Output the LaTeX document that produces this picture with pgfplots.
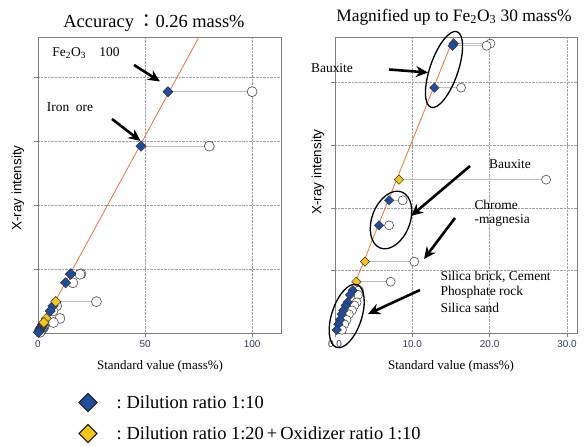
\documentclass[border=0pt]{standalone}
\usepackage{fontspec}
\setmainfont{Liberation Serif}
\newfontfamily\arialf{Liberation Sans}
\newfontfamily\cjk{Noto Sans CJK JP}
\usepackage{pgfplots}
\pgfplotsset{compat=1.18}
\usepackage{pgfplotstable}
\usetikzlibrary{arrows.meta}

\definecolor{dblue}{HTML}{1F4E9E}
\definecolor{dyellow}{HTML}{F5C518}
\definecolor{fitline}{HTML}{F0703C}
\definecolor{ticktext}{HTML}{2E3A55}
\definecolor{framegray}{HTML}{7F7F7F}

% x_d: diamond (standard value), y: intensity, x_c: circle
\pgfplotstableread{
xd y xc
60.7 3.77 100
48.1 2.92 80
}\bigblue
\pgfplotstableread{
xd y xc
15.35 0.925 20.1
15.2 0.918 19.6
12.85 0.784 16.3
7.0 0.424 8.75
5.7 0.344 7.0
2.29 0.136 3.1
1.94 0.122 3.0
1.64 0.098 2.8
1.38 0.088 2.5
1.07 0.072 2.2
0.87 0.060 1.8
0.65 0.042 1.5
0.43 0.028 1.2
0.22 0.010 0.9
}\smallblue
\pgfplotstableread{
xd y xc
8.28 0.490 27.3
3.88 0.228 10.26
2.76 0.164 7.2
}\yellowtab

\pgfplotsset{
 panel/.style={
  scale only axis, anchor=south west, height=296bp,
  xmin=0, ymin=0, clip=false,
  axis line style={framegray, line width=0.7bp},
  grid=major, grid style={densely dotted, gray!75, line width=0.5bp},
  tick align=outside, major tick length=4bp,
  tick style={framegray, line width=0.6bp},
  tick pos=left,
  yticklabel=\empty,
  /pgf/number format/assume math mode=true,
  xticklabel style={font=\arialf\fontsize{10}{11}\selectfont, text=ticktext},
 },
 conn/.style={draw=none, forget plot,
   error bars/.cd, x dir=plus, x explicit, error mark=none,
   error bar style={draw=gray!50, solid, line width=0.9bp}},
 circ/.style={only marks, mark=*, mark size=#1,
   mark options={fill=white, draw=gray!60!black, line width=0.6bp}},
 bmark/.style={only marks, mark=square*, mark size=#1,
   mark options={rotate=45, fill=dblue, draw=black!80, line width=0.5bp}},
 ymark/.style={only marks, mark=square*, mark size=#1,
   mark options={rotate=45, fill=dyellow, draw=black!80, line width=0.5bp}},
}

\begin{document}
\begin{tikzpicture}[x=1bp,y=1bp]
\useasboundingbox (0,0) rectangle (585,446);

% ---------- left panel ----------
\begin{axis}[panel, at={(38bp,113bp)}, width=243bp,
  xmax=113.5, ymax=4.625, xtick={0,50,100}, ytick={1,2,3,4}]
\addplot[conn] table[x=xd, y=y, x error expr=\thisrow{xc}-\thisrow{xd}] {\bigblue};
\addplot[conn] table[x=xd, y=y, x error expr=\thisrow{xc}-\thisrow{xd}] {\smallblue};
\addplot[conn] table[x=xd, y=y, x error expr=\thisrow{xc}-\thisrow{xd}] {\yellowtab};
\addplot[circ=5bp] table[x=xc, y=y] {\bigblue};
\addplot[circ=5bp] table[x=xc, y=y] {\smallblue};
\addplot[circ=5bp] table[x=xc, y=y] {\yellowtab};
\addplot[fitline, line width=0.8bp] coordinates {(0,0) (75.2,4.625)};
\addplot[bmark=3.6bp] table[x=xd, y=y] {\bigblue};
\addplot[bmark=3.6bp] table[x=xd, y=y] {\smallblue};
\addplot[ymark=3.6bp] table[x=xd, y=y] {\yellowtab};
\end{axis}

% ---------- right panel ----------
\begin{axis}[panel, at={(335bp,113bp)}, width=242bp,
  xmax=31.3, ymax=0.946, xtick={0,10,20,30}, ytick={0.2,0.4,0.6,0.8},
  xticklabel style={/pgf/number format/.cd, fixed, fixed zerofill, precision=1}]
\addplot[conn] table[x=xd, y=y, x error expr=\thisrow{xc}-\thisrow{xd}] {\smallblue};
\addplot[conn] table[x=xd, y=y, x error expr=\thisrow{xc}-\thisrow{xd}] {\yellowtab};
\addplot[circ=4.5bp] table[x=xc, y=y] {\smallblue};
\addplot[circ=4.5bp] table[x=xc, y=y] {\yellowtab};
\addplot[fitline, line width=0.8bp] coordinates {(0,0) (15.38,0.946)};
\addplot[bmark=3.3bp] table[x=xd, y=y] {\smallblue};
\addplot[ymark=3.3bp] table[x=xd, y=y] {\yellowtab};
\end{axis}

% ---------- titles and labels ----------
\node[font=\fontsize{18.5}{20}\selectfont] at (154,423) {Accuracy\,{\cjk ：}0.26 mass\%};
\node[font=\fontsize{17.5}{20}\selectfont] at (454,429) {Magnified up to Fe\textsubscript{2}O\textsubscript{3} 30 mass\%};
\node[font=\fontsize{13}{15}\selectfont] at (160,80) {Standard value (mass\%)};
\node[font=\fontsize{13}{15}\selectfont] at (451,80) {Standard value (mass\%)};
\node[font=\arialf\fontsize{13.5}{15}\selectfont, rotate=90] at (18,258) {X-ray intensity};
\node[font=\arialf\fontsize{13.5}{15}\selectfont, rotate=90] at (318,274) {X-ray intensity};

% ---------- annotations ----------
\begin{scope}[font=\fontsize{13.5}{15}\selectfont]
\node at (86,393) {Fe\textsubscript{2}O\textsubscript{3}\quad 100};
\node at (70,339) {Iron\ \ ore};
\node at (332,378) {Bauxite};
\node at (510,282) {Bauxite};
\node[anchor=west] at (471,241) {Chrome};
\node[anchor=west] at (471,225) {-magnesia};
\node[anchor=west] at (437,169) {Silica brick, Cement};
\node[anchor=west] at (437,153.5) {Phosphate rock};
\node[anchor=west] at (437,138) {Silica sand};
\end{scope}

\begin{scope}[line width=2.6bp, -{Stealth[length=12bp, width=11bp]}]
\draw (134,381) -- (160,364.5);
\draw (112,327) -- (140.5,305);
\draw (389,376.5) -- (428,373.5);
\draw (470,280) -- (411,230);
\draw (455,228) -- (424,187);
\draw (420,156) -- (368,132);
\end{scope}

\begin{scope}[line width=1.3bp]
\draw[rotate around={71:(444,376.5)}] (444,376.5) ellipse [x radius=40, y radius=14];
\draw[rotate around={69:(391,226)}] (391,226) ellipse [x radius=30, y radius=19];
\draw[rotate around={72:(346.7,130)}] (346.7,130) ellipse [x radius=33, y radius=15];
\end{scope}

% ---------- legend ----------
\filldraw[fill=dblue, draw=black!85, line width=1.2bp] (88,52.5) -- (97,43.5) -- (88,34.5) -- (79,43.5) -- cycle;
\filldraw[fill=dyellow, draw=black!85, line width=1.2bp] (88,21.5) -- (97,12.5) -- (88,3.5) -- (79,12.5) -- cycle;
\node[anchor=west, font=\fontsize{18.5}{20}\selectfont] at (113,43.5) {:\hspace{5bp}Dilution ratio 1:10};
\node[anchor=west, font=\fontsize{18.5}{20}\selectfont] at (113,12.5) {:\hspace{5bp}Dilution ratio 1:20\,+\,Oxidizer ratio 1:10};
\end{tikzpicture}
\end{document}
